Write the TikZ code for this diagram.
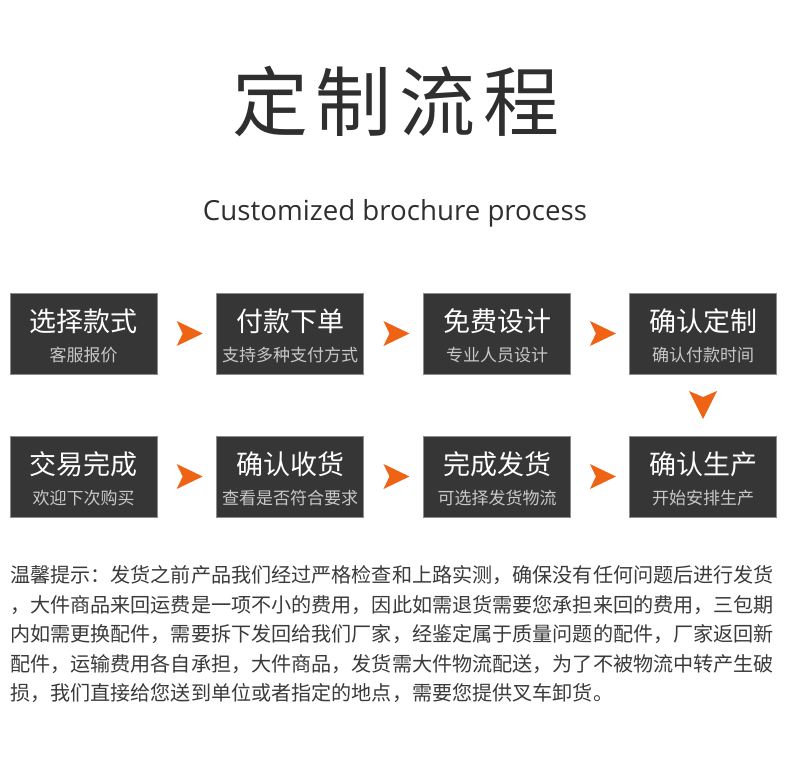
\documentclass[tikz,border=0pt]{standalone}
\usepackage{fontspec}
\setmainfont{Open Sans}
\newfontfamily\cjk{Noto Sans CJK SC}
\usetikzlibrary{calc}
\definecolor{boxfill}{HTML}{363636}
\definecolor{boxline}{HTML}{8C8C8C}
\definecolor{titlec}{HTML}{2F2F2F}
\definecolor{subc}{HTML}{C8C8C8}
\definecolor{arrowc}{HTML}{EE6414}
\definecolor{textc}{HTML}{3A3A3A}
\begin{document}
\begin{tikzpicture}[x=1pt,y=-1pt,
  stepbox/.style={draw=boxline, line width=0.8pt, fill=boxfill, minimum width=147pt, minimum height=81pt, inner sep=0pt},
  maintxt/.style={text=white, font=\cjk\fontsize{27}{27}\selectfont, inner sep=0pt},
  subtxt/.style={text=subc, font=\cjk\fontsize{17}{17}\selectfont, inner sep=0pt},
  note/.style={text=textc, font=\cjk\fontsize{20.1}{20.1}\selectfont, anchor=west, inner sep=0pt},
  rarrow/.pic={\fill[arrowc] (-13,-12.5) -- (13,0) -- (-13,12.5) -- (-7,0) -- cycle;},
  darrow/.pic={\fill[arrowc] (-14,-14) -- (0,-8) -- (14,-14) -- (0,14) -- cycle;}
]
\useasboundingbox (0,0) rectangle (790,761);
\fill[white] (0,0) rectangle (790,761);

% title
\node[font=\cjk\fontsize{76}{76}\selectfont, text=titlec, inner sep=0pt] (title) at (396,101) {定\hspace{8pt}制\hspace{8pt}流\hspace{8pt}程};
\node[text=titlec, inner sep=0pt] (subtitle) at (395,213) {\resizebox{384pt}{!}{\fontsize{28}{28}\selectfont Customized brochure process}};

% row 1
\node[stepbox] (b1) at (83.5,333.5) {};
\node[stepbox] (b2) at (290,333.5) {};
\node[stepbox] (b3) at (497,333.5) {};
\node[stepbox] (b4) at (703,333.5) {};
% row 2
\node[stepbox] (c1) at (83.5,476.5) {};
\node[stepbox] (c2) at (290,476.5) {};
\node[stepbox] (c3) at (497,476.5) {};
\node[stepbox] (c4) at (703,476.5) {};

\node[maintxt] (b1m) at ([yshift=12.5pt]b1.center) {选择款式};
\node[subtxt]  (b1s) at ([yshift=-21.5pt]b1.center) {客服报价};
\node[maintxt] (b2m) at ([yshift=12.5pt]b2.center) {付款下单};
\node[subtxt]  (b2s) at ([yshift=-21.5pt]b2.center) {支持多种支付方式};
\node[maintxt] (b3m) at ([yshift=12.5pt]b3.center) {免费设计};
\node[subtxt]  (b3s) at ([yshift=-21.5pt]b3.center) {专业人员设计};
\node[maintxt] (b4m) at ([yshift=12.5pt]b4.center) {确认定制};
\node[subtxt]  (b4s) at ([yshift=-21.5pt]b4.center) {确认付款时间};

\node[maintxt] (c1m) at ([yshift=12.5pt]c1.center) {交易完成};
\node[subtxt]  (c1s) at ([yshift=-21.5pt]c1.center) {欢迎下次购买};
\node[maintxt] (c2m) at ([yshift=12.5pt]c2.center) {确认收货};
\node[subtxt]  (c2s) at ([yshift=-21.5pt]c2.center) {查看是否符合要求};
\node[maintxt] (c3m) at ([yshift=12.5pt]c3.center) {完成发货};
\node[subtxt]  (c3s) at ([yshift=-21.5pt]c3.center) {可选择发货物流};
\node[maintxt] (c4m) at ([yshift=12.5pt]c4.center) {确认生产};
\node[subtxt]  (c4s) at ([yshift=-21.5pt]c4.center) {开始安排生产};

% arrows
\pic at ($(b1.east)!0.55!(b2.west)$) {rarrow};
\pic at ($(b2.east)!0.55!(b3.west)$) {rarrow};
\pic at ($(b3.east)!0.55!(b4.west)$) {rarrow};
\pic at ($(b4.south)!0.5!(c4.north)$) {darrow};
\pic at ($(c1.east)!0.55!(c2.west)$) {rarrow};
\pic at ($(c2.east)!0.55!(c3.west)$) {rarrow};
\pic at ($(c3.east)!0.55!(c4.west)$) {rarrow};

% notes
\node[note] (t1) at (10,575.5) {温馨提示：发货之前产品我们经过严格检查和上路实测，确保没有任何问题后进行发货};
\node[note] (t2) at (10,605) {，大件商品来回运费是一项不小的费用，因此如需退货需要您承担来回的费用，三包期};
\node[note] (t3) at (10,634.5) {内如需更换配件，需要拆下发回给我们厂家，经鉴定属于质量问题的配件，厂家返回新};
\node[note] (t4) at (10,664) {配件，运输费用各自承担，大件商品，发货需大件物流配送，为了不被物流中转产生破};
\node[note] (t5) at (10,693.5) {损，我们直接给您送到单位或者指定的地点，需要您提供叉车卸货。};
\end{tikzpicture}
\end{document}
